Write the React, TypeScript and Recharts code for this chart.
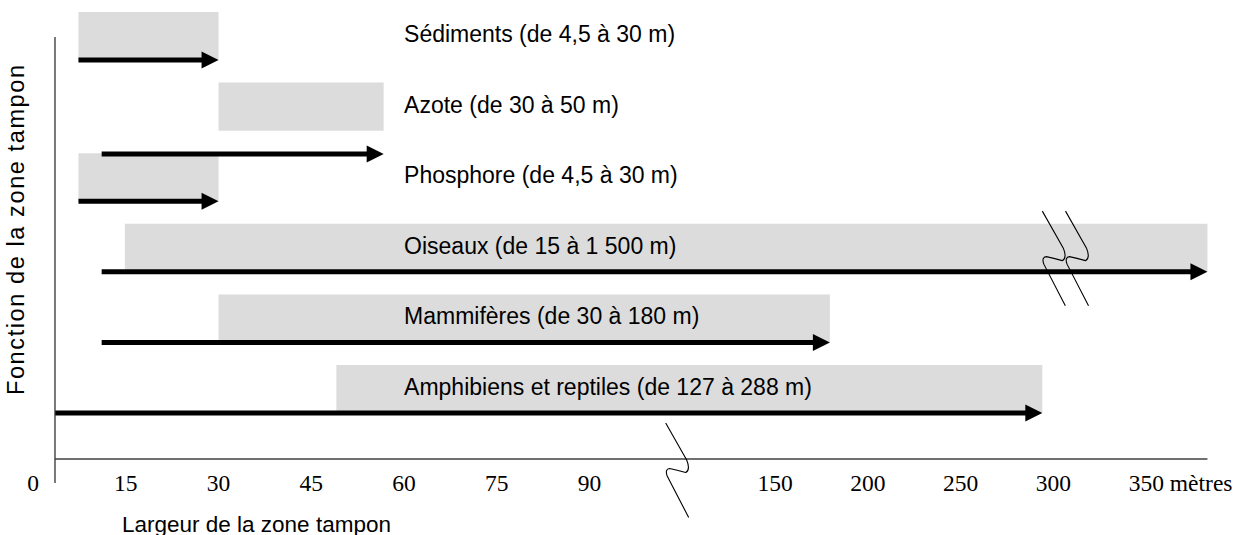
import React from "react";
import {
  ComposedChart,
  XAxis,
  YAxis,
  ReferenceArea,
  ReferenceLine,
  ReferenceDot,
} from "recharts";

// ---- data (x in axis "slots": one slot per tick; y in row units) ----
const categories = [
  "Sédiments (de 4,5 à 30 m)",
  "Azote (de 30 à 50 m)",
  "Phosphore (de 4,5 à 30 m)",
  "Oiseaux (de 15 à 1 500 m)",
  "Mammifères (de 30 à 180 m)",
  "Amphibiens et reptiles (de 127 à 288 m)",
];
const rows = [0, 1, 2, 3, 4, 5];
const bandStart = [0.49, 2.0, 0.49, 0.99, 2.0, 3.27];
const bandEnd = [2.0, 3.78, 2.0, 12.66, 8.59, 10.88];
const arrowStart = [0.49, 0.74, 0.49, 0.74, 0.74, 0.24];
const arrowEnd = [2.0, 3.78, 2.0, 12.66, 8.59, 10.88];
const arrowLevel = [0.68, 2.01, 2.68, 3.68, 4.68, 5.68];

const tickSlots = [0, 1, 2, 3, 4, 5, 6, 8, 9, 10, 11, 12];
const tickLabels = ["0", "15", "30", "45", "60", "75", "90", "150", "200", "250", "300", "350 mètres"];

const xTitle = "Largeur de la zone tampon";
const yTitle = "Fonction de la zone tampon";

// ---- layout constants ----
const W = 1241;
const H = 535;
const BAND_H = 0.68;
const LABEL_X = 4;
const LABEL_DY = 0.31;
const AXIS_Y = 6.33;
const AXIS_X = 0.237;
const BREAKS = [
  { x: 6.82, y: 5.82 },
  { x: 10.88, y: 2.82 },
  { x: 11.13, y: 2.82 },
];

const SANS = "'Liberation Sans', Arial, sans-serif";
const SERIF = "'Liberation Serif', 'Times New Roman', serif";

const ArrowShape = (p: any) => {
  const { x1, y1, x2 } = p;
  const head = 17;
  const half = 8.5;
  return (
    <g>
      <line x1={x1} y1={y1} x2={x2 - head + 1} y2={y1} stroke="#000" strokeWidth={5} />
      <polygon points={`${x2},${y1} ${x2 - head},${y1 - half} ${x2 - head},${y1 + half}`} fill="#000" />
    </g>
  );
};

const BreakShape = (p: any) => {
  const { cx, cy } = p;
  return (
    <path
      transform={`translate(${cx},${cy})`}
      d="M0,0 L21,37 Q25,47 20,49.5 Q11,47 4,45.5 Q-1,46 1.5,53 L23,94.5"
      fill="none"
      stroke="#000"
      strokeWidth={1.1}
    />
  );
};

const Tick = (props: any) => {
  const { x, y, payload } = props;
  const i = tickSlots.indexOf(payload.value);
  const text = i >= 0 ? tickLabels[i] : String(payload.value);
  const last = i === tickSlots.length - 1;
  return (
    <text
      x={last ? x - 17.5 : x}
      y={y + 24}
      textAnchor={last ? "start" : "middle"}
      dominantBaseline="central"
      fontFamily={SERIF}
      fontSize={23.5}
      fill="#000"
    >
      {text}
    </text>
  );
};

export default function App() {
  return (
    <div style={{ position: "absolute", left: 0, top: 0, background: "#fff" }}>
      <ComposedChart
        width={W}
        height={H}
        data={[]}
        margin={{ top: 12, right: 2, bottom: 16, left: 0 }}
      >
        <XAxis
          type="number"
          dataKey="x"
          domain={[0, 13]}
          ticks={tickSlots}
          interval={0}
          allowDataOverflow
          axisLine={false}
          tickLine={false}
          tickSize={0}
          tickMargin={0}
          height={60}
          tick={<Tick />}
          label={{
            content: () => (
              <text x={122} y={524} textAnchor="start" dominantBaseline="central" fontFamily={SANS} fontSize={22.5} fill="#000">
                {xTitle}
              </text>
            ),
          }}
        />
        <YAxis
          type="number"
          dataKey="y"
          domain={[0, AXIS_Y]}
          reversed
          allowDataOverflow
          width={33}
          tick={false}
          tickLine={false}
          axisLine={false}
          label={{
            content: () => (
              <text
                x={16}
                y={230}
                transform="rotate(-90 16 230)"
                textAnchor="middle"
                dominantBaseline="central"
                fontFamily={SANS}
                fontSize={23.5}
                textLength={330}
                lengthAdjust="spacing"
                fill="#000"
              >
                {yTitle}
              </text>
            ),
          }}
        />

        {rows.map((r, i) => (
          <ReferenceArea
            key={`band-${i}`}
            x1={bandStart[i]}
            x2={bandEnd[i]}
            y1={r}
            y2={r + BAND_H}
            fill="#dcdcdc"
            fillOpacity={1}
            stroke="none"
            ifOverflow="visible"
          />
        ))}

        <ReferenceLine
          segment={[{ x: AXIS_X, y: AXIS_Y }, { x: 12.66, y: AXIS_Y }]}
          stroke="#404040"
          strokeWidth={1.4}
          ifOverflow="visible"
        />
        <ReferenceLine
          segment={[{ x: AXIS_X, y: 0.354 }, { x: AXIS_X, y: 6.67 }]}
          stroke="#404040"
          strokeWidth={1.4}
          ifOverflow="visible"
        />

        {rows.map((r, i) => (
          <ReferenceLine
            key={`arrow-${i}`}
            segment={[{ x: arrowStart[i], y: arrowLevel[i] }, { x: arrowEnd[i], y: arrowLevel[i] }]}
            ifOverflow="visible"
            shape={ArrowShape}
          />
        ))}

        {rows.map((r, i) => (
          <ReferenceDot
            key={`label-${i}`}
            x={LABEL_X}
            y={r + LABEL_DY}
            r={0}
            ifOverflow="visible"
            shape={(p: any) => (
              <text
                x={p.cx}
                y={p.cy}
                textAnchor="start"
                dominantBaseline="central"
                fontFamily={SANS}
                fontSize={23}
                fill="#000"
              >
                {categories[i]}
              </text>
            )}
          />
        ))}

        {BREAKS.map((b, i) => (
          <ReferenceDot key={`brk-${i}`} x={b.x} y={b.y} r={0} ifOverflow="visible" shape={BreakShape} />
        ))}
      </ComposedChart>
    </div>
  );
}
